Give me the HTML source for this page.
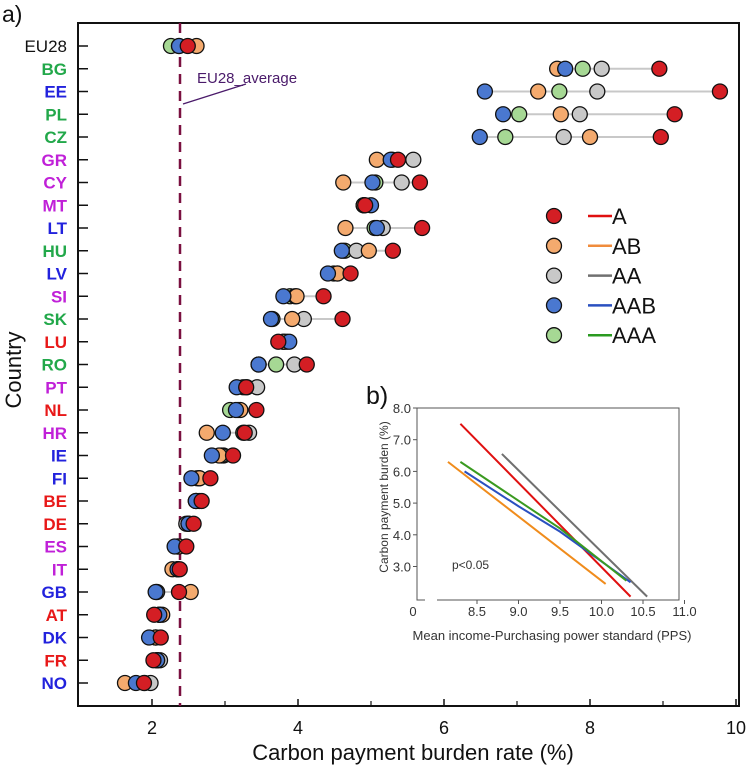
<!DOCTYPE html>
<html><head><meta charset="utf-8"><style>
body{margin:0;background:#fff;}
svg{display:block;font-family:"Liberation Sans",Arial,sans-serif;}
</style></head><body>
<svg id="c" width="754" height="767" viewBox="0 0 754 767"></svg>
<script>
const countries=["EU28","BG","EE","PL","CZ","GR","CY","MT","LT","HU","LV","SI","SK","LU","RO","PT","NL","HR","IE","FI","BE","DE","ES","IT","GB","AT","DK","FR","NO"];
const labelColors=["#111","#22a84a","#2222dd","#22a84a","#22a84a","#c020d8","#c020d8","#c020d8","#2222dd","#22a84a","#2222dd","#c020d8","#22a84a","#e81818","#22a84a","#c020d8","#e81818","#c020d8","#2222dd","#2222dd","#e81818","#e81818","#c020d8","#c020d8","#2222dd","#e81818","#2222dd","#e81818","#2222dd"];
const valA=[2.49,8.95,9.78,9.16,8.97,5.37,5.67,4.92,5.70,5.30,4.72,4.35,4.61,3.73,4.12,3.29,3.43,3.27,3.11,2.80,2.68,2.57,2.47,2.38,2.37,2.03,2.12,2.02,1.89];
const valAB=[2.61,7.55,7.29,7.60,8.00,5.08,4.62,4.90,4.65,4.97,4.54,3.98,3.92,3.80,3.46,3.25,3.21,2.75,2.92,2.65,2.65,2.50,2.37,2.28,2.53,2.14,2.05,2.07,1.63];
const valAA=[2.37,8.16,8.10,7.86,7.64,5.58,5.42,4.90,5.16,4.80,4.54,3.96,4.08,3.84,3.95,3.44,3.18,3.33,2.95,2.65,2.61,2.47,2.35,2.35,2.07,2.10,2.05,2.11,1.98];
const valAAB=[2.37,7.66,6.56,6.81,6.49,5.27,5.02,5.00,5.08,4.60,4.41,3.80,3.63,3.88,3.46,3.16,3.15,2.97,2.82,2.54,2.60,2.50,2.31,2.35,2.05,2.10,1.96,2.07,1.78];
const valAAA=[2.26,7.90,7.58,7.03,6.84,5.29,5.06,4.90,5.05,4.64,4.49,3.89,3.65,3.80,3.70,3.30,3.07,3.25,2.98,2.62,2.60,2.50,2.35,2.35,2.06,2.10,2.05,2.07,1.90];
const xTicks=[2,4,6,8,10];
const xMinor=[3,5,7,9];
const insetXTicks=[8.5,9.0,9.5,10.0,10.5,11];
const insetYTicks=[3,4,5,6,7,8];
const lineA_x=[8.3,10.35], lineA_y=[7.5,2.05];
const lineAB_x=[8.15,10.05], lineAB_y=[6.3,2.45];
const lineAA_x=[8.8,10.55], lineAA_y=[6.55,2.05];
const lineAAB_x=[8.35,9.0,9.5,10.35], lineAAB_y=[6.0,4.9,4.1,2.5];
const lineAAA_x=[8.3,9.5,10.3], lineAAA_y=[6.3,4.2,2.55];

const NS="http://www.w3.org/2000/svg";
const svg=document.getElementById('c');
function el(tag,attrs,parent){const e=document.createElementNS(NS,tag);for(const k in attrs)e.setAttribute(k,attrs[k]);(parent||svg).appendChild(e);return e;}
const X=v=>79+(v-1)*73;
const Y=i=>46+i*22.75;

let f=el('rect',{x:78,y:23,width:661,height:683,fill:'none',stroke:'#111','stroke-width':2});

let t=el('text',{x:2,y:22,'font-size':23,fill:'#111'});t.textContent='a)';


xTicks.forEach(v=>{
 let l=el('line',{x1:X(v),x2:X(v),y1:706,y2:699,stroke:'#111','stroke-width':1.5});
 
 let tx=el('text',{x:X(v),y:734,'font-size':18,'text-anchor':'middle',fill:'#111'});tx.textContent=v;
 
});
xMinor.forEach(v=>{
 let l=el('line',{x1:X(v),x2:X(v),y1:706,y2:701,stroke:'#111','stroke-width':1.2});
 
});
t=el('text',{x:413,y:760,'font-size':22,'text-anchor':'middle',fill:'#111'});t.textContent='Carbon payment burden rate (%)';

t=el('text',{x:0,y:0,'font-size':22,'text-anchor':'middle',fill:'#111',transform:'translate(21,370) rotate(-90)'});t.textContent='Country';


let avg=el('line',{x1:180,x2:180,y1:23,y2:706,stroke:'#7a1040','stroke-width':2.5,'stroke-dasharray':'10,7'});

t=el('text',{x:197,y:83,'font-size':15,fill:'#4a1a6a'});t.textContent='EU28_average';

let ar=el('line',{x1:183,y1:104,x2:246,y2:84,stroke:'#4a1a6a','stroke-width':1.3});


const series=[[valAAA,'#a6d894'],[valAA,'#c8c8c8'],[valAB,'#f4aa6e'],[valAAB,'#4a78d0'],[valA,'#d41e24']];
const names=['AAA','AA','AB','AAB','A'];
countries.forEach((c,i)=>{
 const y=Y(i);
 let tk=el('line',{x1:78,x2:88,y1:y,y2:y,stroke:'#111','stroke-width':1.5});
 
 let lb=el('text',{x:67,y:y+6,'font-size':17,'font-weight':i?'bold':'normal','text-anchor':'end',fill:labelColors[i]});lb.textContent=c;
 
 const vs=series.map(s=>s[0][i]);
 let rl=el('line',{x1:X(Math.min(...vs)),x2:X(Math.max(...vs)),y1:y,y2:y,stroke:'#c8c8c8','stroke-width':2});
 
 series.forEach((s,k)=>{
  let ci=el('circle',{cx:X(s[0][i]),cy:y,r:7.5,fill:s[1],stroke:'#111','stroke-width':1.3});
  
  
 });
});

const legItems=[['A','#d41e24','#e01010'],['AB','#f4aa6e','#f08c3c'],['AA','#c8c8c8','#707070'],['AAB','#4a78d0','#2a50c0'],['AAA','#a6d894','#2a9a20']];
legItems.forEach((it,k)=>{
 const y=216+k*29.8;
 let c=el('circle',{cx:554,cy:y,r:7.5,fill:it[1],stroke:'#111','stroke-width':1.3});
 
 let l=el('line',{x1:588,x2:612,y1:y,y2:y,stroke:it[2],'stroke-width':2.5});
 
 let tx=el('text',{x:612,y:y+8,'font-size':22,fill:'#111'});tx.textContent=it[0];
 
});

const IX=v=>477+(v-8.5)*83;
const IY=v=>408+(8-v)*31.7;
let ib=el('rect',{x:417,y:408,width:262,height:192,fill:'#fff',stroke:'#555','stroke-width':1});

t=el('text',{x:366,y:404,'font-size':25,fill:'#111'});t.textContent='b)';

let brk=el('rect',{x:425,y:597,width:12,height:6,fill:'#fff'});

insetXTicks.forEach(v=>{
 let l=el('line',{x1:IX(v),x2:IX(v),y1:600,y2:604,stroke:'#555'});
 
 let tx=el('text',{x:IX(v),y:616,'font-size':13,'text-anchor':'middle',fill:'#333'});tx.textContent=(v===11?'11.0':v.toFixed(1));
 
});
t=el('text',{x:413,y:616,'font-size':13,'text-anchor':'middle',fill:'#333'});t.textContent='0';

insetYTicks.forEach(v=>{
 let l=el('line',{x1:413,x2:417,y1:IY(v),y2:IY(v),stroke:'#555'});
 
 let tx=el('text',{x:411,y:IY(v)+5,'font-size':13,'text-anchor':'end',fill:'#333'});tx.textContent=v.toFixed(1);
 
});
t=el('text',{x:0,y:0,'font-size':12,'text-anchor':'middle',fill:'#333',transform:'translate(388,497) rotate(-90)'});t.textContent='Carbon payment burden (%)';

t=el('text',{x:552,y:640,'font-size':13,'text-anchor':'middle',fill:'#333'});t.textContent='Mean income-Purchasing power standard (PPS)';

t=el('text',{x:452,y:569,'font-size':12,fill:'#333'});t.textContent='p<0.05';

const lines=[[lineAB_x,lineAB_y,'#f08c1c','ab'],[lineAA_x,lineAA_y,'#707070','aa'],[lineA_x,lineA_y,'#e01010','a'],[lineAAB_x,lineAAB_y,'#2a50c0','aab'],[lineAAA_x,lineAAA_y,'#3a9a20','aaa']];
lines.forEach(L=>{
 const pts=L[0].map((x,j)=>IX(x)+','+IY(L[1][j])).join(' ');
 let p=el('polyline',{points:pts,fill:'none',stroke:L[2],'stroke-width':2});
 
});
</script>
</body></html>
